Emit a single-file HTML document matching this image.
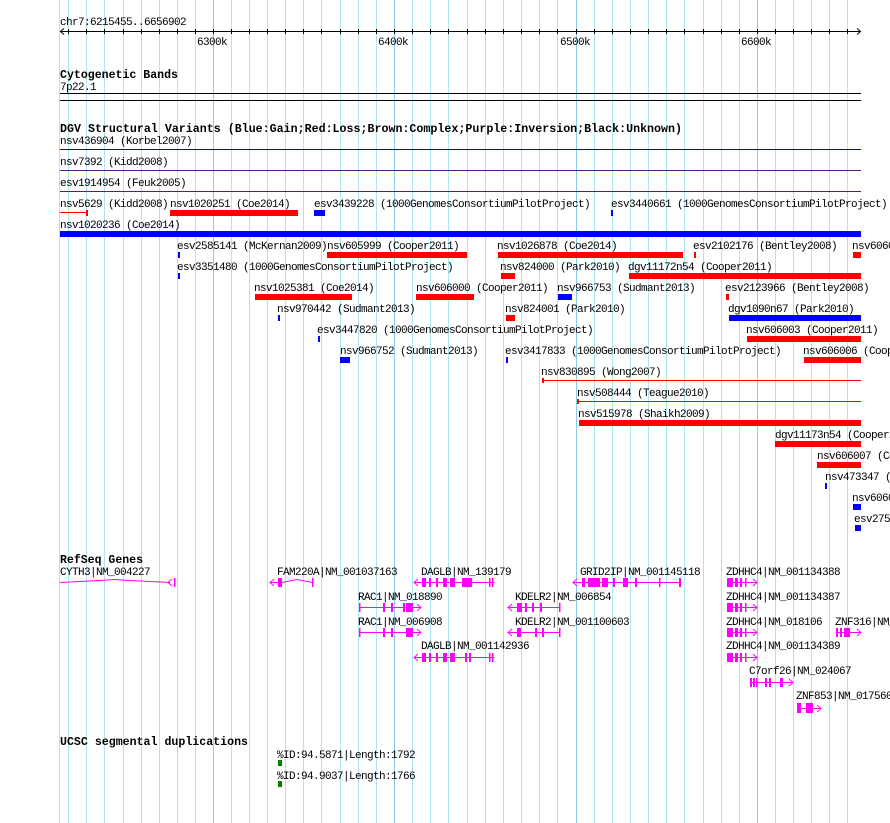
<!DOCTYPE html>
<html><head><meta charset="utf-8"><style>
html,body{margin:0;padding:0;background:#fff;width:890px;height:823px;overflow:hidden}
svg{display:block}
text{font-family:"Liberation Mono",monospace;font-size:11px;letter-spacing:-0.6px;fill:#000}
.b{font-weight:bold;font-size:12px;letter-spacing:0}
</style></head><body>
<svg width="890" height="823" viewBox="0 0 890 823" xmlns="http://www.w3.org/2000/svg">
<g stroke="#aee6ee" stroke-width="1">
<line x1="59.5" y1="0" x2="59.5" y2="823"/>
<line x1="68.5" y1="0" x2="68.5" y2="823"/><line x1="86.5" y1="0" x2="86.5" y2="823"/><line x1="104.5" y1="0" x2="104.5" y2="823"/><line x1="123.5" y1="0" x2="123.5" y2="823"/><line x1="141.5" y1="0" x2="141.5" y2="823"/><line x1="159.5" y1="0" x2="159.5" y2="823"/><line x1="177.5" y1="0" x2="177.5" y2="823"/><line x1="195.5" y1="0" x2="195.5" y2="823"/>
<line x1="231.5" y1="0" x2="231.5" y2="823"/><line x1="249.5" y1="0" x2="249.5" y2="823"/><line x1="267.5" y1="0" x2="267.5" y2="823"/><line x1="285.5" y1="0" x2="285.5" y2="823"/><line x1="303.5" y1="0" x2="303.5" y2="823"/><line x1="321.5" y1="0" x2="321.5" y2="823"/><line x1="340.5" y1="0" x2="340.5" y2="823"/><line x1="358.5" y1="0" x2="358.5" y2="823"/><line x1="376.5" y1="0" x2="376.5" y2="823"/>
<line x1="412.5" y1="0" x2="412.5" y2="823"/><line x1="430.5" y1="0" x2="430.5" y2="823"/><line x1="448.5" y1="0" x2="448.5" y2="823"/><line x1="467.5" y1="0" x2="467.5" y2="823"/><line x1="485.5" y1="0" x2="485.5" y2="823"/><line x1="503.5" y1="0" x2="503.5" y2="823"/><line x1="521.5" y1="0" x2="521.5" y2="823"/><line x1="539.5" y1="0" x2="539.5" y2="823"/><line x1="557.5" y1="0" x2="557.5" y2="823"/>
<line x1="594.5" y1="0" x2="594.5" y2="823"/><line x1="612.5" y1="0" x2="612.5" y2="823"/><line x1="630.5" y1="0" x2="630.5" y2="823"/><line x1="648.5" y1="0" x2="648.5" y2="823"/><line x1="666.5" y1="0" x2="666.5" y2="823"/><line x1="684.5" y1="0" x2="684.5" y2="823"/><line x1="703.5" y1="0" x2="703.5" y2="823"/><line x1="721.5" y1="0" x2="721.5" y2="823"/><line x1="739.5" y1="0" x2="739.5" y2="823"/>
<line x1="775.5" y1="0" x2="775.5" y2="823"/><line x1="793.5" y1="0" x2="793.5" y2="823"/><line x1="811.5" y1="0" x2="811.5" y2="823"/><line x1="829.5" y1="0" x2="829.5" y2="823"/><line x1="847.5" y1="0" x2="847.5" y2="823"/>
</g>
<g stroke="#8ccbe6" stroke-width="1">
<line x1="213.5" y1="0" x2="213.5" y2="823"/><line x1="394.5" y1="0" x2="394.5" y2="823"/><line x1="576.5" y1="0" x2="576.5" y2="823"/><line x1="757.5" y1="0" x2="757.5" y2="823"/>
</g>
<text x="60" y="25">chr7:6215455..6656902</text>
<g stroke="#000" stroke-width="1">
<line x1="60" y1="31.5" x2="861" y2="31.5"/>
<polyline points="64,28.5 60.5,31.5 64,34.5" fill="none"/>
<polyline points="857,28.5 860.5,31.5 857,34.5" fill="none"/>
</g>
<g stroke="#000" stroke-width="1">
<line x1="68.5" y1="29" x2="68.5" y2="34"/><line x1="86.5" y1="29" x2="86.5" y2="34"/><line x1="104.5" y1="29" x2="104.5" y2="34"/><line x1="123.5" y1="29" x2="123.5" y2="34"/><line x1="141.5" y1="29" x2="141.5" y2="34"/><line x1="159.5" y1="29" x2="159.5" y2="34"/><line x1="177.5" y1="29" x2="177.5" y2="34"/><line x1="195.5" y1="29" x2="195.5" y2="34"/><line x1="213.5" y1="29" x2="213.5" y2="34"/>
<line x1="231.5" y1="29" x2="231.5" y2="34"/><line x1="249.5" y1="29" x2="249.5" y2="34"/><line x1="267.5" y1="29" x2="267.5" y2="34"/><line x1="285.5" y1="29" x2="285.5" y2="34"/><line x1="303.5" y1="29" x2="303.5" y2="34"/><line x1="321.5" y1="29" x2="321.5" y2="34"/><line x1="340.5" y1="29" x2="340.5" y2="34"/><line x1="358.5" y1="29" x2="358.5" y2="34"/><line x1="376.5" y1="29" x2="376.5" y2="34"/><line x1="394.5" y1="29" x2="394.5" y2="34"/>
<line x1="412.5" y1="29" x2="412.5" y2="34"/><line x1="430.5" y1="29" x2="430.5" y2="34"/><line x1="448.5" y1="29" x2="448.5" y2="34"/><line x1="467.5" y1="29" x2="467.5" y2="34"/><line x1="485.5" y1="29" x2="485.5" y2="34"/><line x1="503.5" y1="29" x2="503.5" y2="34"/><line x1="521.5" y1="29" x2="521.5" y2="34"/><line x1="539.5" y1="29" x2="539.5" y2="34"/><line x1="557.5" y1="29" x2="557.5" y2="34"/><line x1="576.5" y1="29" x2="576.5" y2="34"/>
<line x1="594.5" y1="29" x2="594.5" y2="34"/><line x1="612.5" y1="29" x2="612.5" y2="34"/><line x1="630.5" y1="29" x2="630.5" y2="34"/><line x1="648.5" y1="29" x2="648.5" y2="34"/><line x1="666.5" y1="29" x2="666.5" y2="34"/><line x1="684.5" y1="29" x2="684.5" y2="34"/><line x1="703.5" y1="29" x2="703.5" y2="34"/><line x1="721.5" y1="29" x2="721.5" y2="34"/><line x1="739.5" y1="29" x2="739.5" y2="34"/><line x1="757.5" y1="29" x2="757.5" y2="34"/>
<line x1="775.5" y1="29" x2="775.5" y2="34"/><line x1="793.5" y1="29" x2="793.5" y2="34"/><line x1="811.5" y1="29" x2="811.5" y2="34"/><line x1="829.5" y1="29" x2="829.5" y2="34"/><line x1="847.5" y1="29" x2="847.5" y2="34"/>
</g>
<text x="197" y="45">6300k</text><text x="378" y="45">6400k</text><text x="560" y="45">6500k</text><text x="741" y="45">6600k</text>
<text class="b" x="60" y="78" textLength="118" lengthAdjust="spacingAndGlyphs">Cytogenetic Bands</text>
<text x="60" y="90">7p22.1</text>
<rect x="60" y="93" width="801" height="1" fill="#000"/>
<rect x="60" y="100" width="801" height="1" fill="#000"/>
<text class="b" x="60" y="132" textLength="622" lengthAdjust="spacingAndGlyphs">DGV Structural Variants (Blue:Gain;Red:Loss;Brown:Complex;Purple:Inversion;Black:Unknown)</text>
<text x="60" y="144">nsv436904 (Korbel2007)</text>
<rect x="60" y="149" width="801" height="1" fill="#0000cc"/>
<text x="60" y="165">nsv7392 (Kidd2008)</text>
<rect x="60" y="170" width="801" height="1" fill="#551a8b"/>
<text x="60" y="186">esv1914954 (Feuk2005)</text>
<rect x="60" y="191" width="801" height="1" fill="#551a8b"/>

<text x="60" y="207">nsv5629 (Kidd2008)</text>
<text x="170" y="207">nsv1020251 (Coe2014)</text>
<text x="314" y="207">esv3439228 (1000GenomesConsortiumPilotProject)</text>
<text x="611" y="207">esv3440661 (1000GenomesConsortiumPilotProject)</text>
<rect x="60" y="212" width="27" height="1" fill="#f00"/><rect x="86" y="210" width="2" height="6" fill="#f00"/>
<rect x="170" y="210" width="128" height="6" fill="#f00"/>
<rect x="314" y="210" width="11" height="6" fill="#00f"/>
<rect x="611" y="210" width="2" height="6" fill="#00f"/>

<text x="60" y="228">nsv1020236 (Coe2014)</text>
<rect x="60" y="231" width="801" height="6" fill="#00f"/>

<text x="177" y="249">esv2585141 (McKernan2009)</text>
<text x="327" y="249">nsv605999 (Cooper2011)</text>
<text x="497" y="249">nsv1026878 (Coe2014)</text>
<text x="693" y="249">esv2102176 (Bentley2008)</text>
<text x="852" y="249">nsv606005 (Cooper2011)</text>
<rect x="178" y="252" width="2" height="6" fill="#00f"/>
<rect x="327" y="252" width="140" height="6" fill="#f00"/>
<rect x="498" y="252" width="185" height="6" fill="#f00"/>
<rect x="694" y="252" width="2" height="6" fill="#f00"/>
<rect x="853" y="252" width="8" height="6" fill="#f00"/>

<text x="177" y="270">esv3351480 (1000GenomesConsortiumPilotProject)</text>
<text x="500" y="270">nsv824000 (Park2010)</text>
<text x="628" y="270">dgv11172n54 (Cooper2011)</text>
<rect x="178" y="273" width="2" height="6" fill="#00f"/>
<rect x="501" y="273" width="14" height="6" fill="#f00"/>
<rect x="629" y="273" width="232" height="6" fill="#f00"/>

<text x="254" y="291">nsv1025381 (Coe2014)</text>
<text x="416" y="291">nsv606000 (Cooper2011)</text>
<text x="557" y="291">nsv966753 (Sudmant2013)</text>
<text x="725" y="291">esv2123966 (Bentley2008)</text>
<rect x="255" y="294" width="97" height="6" fill="#f00"/>
<rect x="416" y="294" width="58" height="6" fill="#f00"/>
<rect x="558" y="294" width="14" height="6" fill="#00f"/>
<rect x="726" y="294" width="3" height="6" fill="#f00"/>

<text x="277" y="312">nsv970442 (Sudmant2013)</text>
<text x="505" y="312">nsv824001 (Park2010)</text>
<text x="728" y="312">dgv1090n67 (Park2010)</text>
<rect x="278" y="315" width="2" height="6" fill="#00f"/>
<rect x="506" y="315" width="9" height="6" fill="#f00"/>
<rect x="729" y="315" width="132" height="6" fill="#00f"/>

<text x="317" y="333">esv3447820 (1000GenomesConsortiumPilotProject)</text>
<text x="746" y="333">nsv606003 (Cooper2011)</text>
<rect x="318" y="336" width="2" height="6" fill="#00f"/>
<rect x="747" y="336" width="114" height="6" fill="#f00"/>

<text x="340" y="354">nsv966752 (Sudmant2013)</text>
<text x="505" y="354">esv3417833 (1000GenomesConsortiumPilotProject)</text>
<text x="803" y="354">nsv606006 (Cooper2011)</text>
<rect x="340" y="357" width="10" height="6" fill="#00f"/>
<rect x="506" y="357" width="2" height="6" fill="#00f"/>
<rect x="804" y="357" width="57" height="6" fill="#f00"/>

<text x="541" y="375">nsv830895 (Wong2007)</text>
<rect x="542" y="380" width="319" height="1" fill="#f00"/><rect x="542" y="378" width="2" height="5" fill="#f00"/>
<text x="577" y="396">nsv508444 (Teague2010)</text>
<rect x="577" y="401" width="284" height="1" fill="#f00"/><rect x="577" y="399" width="2" height="5" fill="#f00"/>
<text x="578" y="417">nsv515978 (Shaikh2009)</text>
<rect x="579" y="420" width="282" height="6" fill="#f00"/>
<text x="775" y="438">dgv11173n54 (Cooper2011)</text>
<rect x="775" y="441" width="86" height="6" fill="#f00"/>
<text x="817" y="459">nsv606007 (Cooper2011)</text>
<rect x="817" y="462" width="44" height="6" fill="#f00"/>
<text x="825" y="480">nsv473347 (Park2010)</text>
<rect x="825" y="483" width="2" height="6" fill="#00f"/>
<text x="852" y="501">nsv606004</text>
<rect x="853" y="504" width="8" height="6" fill="#00f"/>
<text x="854" y="522">esv2758</text>
<rect x="855" y="525" width="6" height="6" fill="#00f"/>

<text class="b" x="60" y="563" textLength="83" lengthAdjust="spacingAndGlyphs">RefSeq Genes</text>
<g fill="#f0f" stroke="#f0f" stroke-width="1">
<text x="60" y="575" style="fill:#000;stroke:none">CYTH3|NM_004227</text>
<polyline points="60,582.5 80,581.5 100,580.5 115,579.5 130,580.5 150,581.5 170,582.5" fill="none"/>
<polyline points="172,579 168,582.5 172,586" fill="none"/>
<rect x="174" y="578" width="1.5" height="9" stroke="none"/>

<text x="277" y="575" style="fill:#000;stroke:none">FAM220A|NM_001037163</text>
<line x1="270" y1="582.5" x2="278" y2="582.5"/><polyline points="274,579 270,582.5 274,586" fill="none"/>
<rect x="278" y="578" width="4" height="9" stroke="none"/>
<polyline points="282,582.5 297,579.5 312,582.5" fill="none"/>
<rect x="312" y="578" width="1.5" height="9" stroke="none"/>

<text x="421" y="575" style="fill:#000;stroke:none">DAGLB|NM_139179</text>
<line x1="414" y1="582.5" x2="494" y2="582.5"/><polyline points="418,579 414,582.5 418,586" fill="none"/>
<rect x="422" y="578" width="4" height="9" stroke="none"/><rect x="429" y="578" width="2" height="9" stroke="none"/><rect x="436" y="578" width="2" height="9" stroke="none"/><rect x="443" y="578" width="4" height="9" stroke="none"/><rect x="450" y="578" width="5" height="9" stroke="none"/><rect x="462" y="578" width="10" height="9" stroke="none"/><rect x="489" y="578" width="1.5" height="9" stroke="none"/><rect x="492" y="578" width="1.5" height="9" stroke="none"/>

<text x="580" y="575" style="fill:#000;stroke:none">GRID2IP|NM_001145118</text>
<line x1="573" y1="582.5" x2="681" y2="582.5"/><polyline points="577,579 573,582.5 577,586" fill="none"/>
<rect x="582" y="578" width="3" height="9" stroke="none"/><rect x="588" y="578" width="12" height="9" stroke="none"/><rect x="602" y="578" width="6" height="9" stroke="none"/><rect x="613" y="578" width="2" height="9" stroke="none"/><rect x="623" y="578" width="5" height="9" stroke="none"/><rect x="635" y="578" width="2" height="9" stroke="none"/><rect x="659" y="578" width="1.5" height="9" stroke="none"/><rect x="679" y="578" width="2" height="9" stroke="none"/>

<text x="726" y="575" style="fill:#000;stroke:none">ZDHHC4|NM_001134388</text>
<line x1="727" y1="582.5" x2="757" y2="582.5"/><polyline points="753,579 757,582.5 753,586" fill="none"/>
<rect x="727" y="578" width="6" height="9" stroke="none"/><rect x="735" y="578" width="3" height="9" stroke="none"/><rect x="740" y="578" width="2" height="9" stroke="none"/><rect x="745" y="578" width="1.5" height="9" stroke="none"/>

<text x="358" y="600" style="fill:#000;stroke:none">RAC1|NM_018890</text>
<line x1="359" y1="607.5" x2="421" y2="607.5"/><polyline points="417,604 421,607.5 417,611" fill="none"/>
<rect x="359" y="603" width="1.5" height="9" stroke="none"/><rect x="383" y="603" width="2" height="9" stroke="none"/><rect x="391" y="603" width="2" height="9" stroke="none"/><rect x="403" y="603" width="2" height="9" stroke="none"/><rect x="406" y="603" width="7" height="9" stroke="none"/>
<text x="515" y="600" style="fill:#000;stroke:none">KDELR2|NM_006854</text>
<line x1="508" y1="607.5" x2="560" y2="607.5"/><polyline points="512,604 508,607.5 512,611" fill="none"/>
<rect x="517" y="603" width="5" height="9" stroke="none"/><rect x="525" y="603" width="2" height="9" stroke="none"/><rect x="532" y="603" width="2" height="9" stroke="none"/><rect x="540" y="603" width="2" height="9" stroke="none"/><rect x="559" y="603" width="1.5" height="9" stroke="none"/>
<text x="726" y="600" style="fill:#000;stroke:none">ZDHHC4|NM_001134387</text>
<line x1="727" y1="607.5" x2="757" y2="607.5"/><polyline points="753,604 757,607.5 753,611" fill="none"/>
<rect x="727" y="603" width="6" height="9" stroke="none"/><rect x="735" y="603" width="3" height="9" stroke="none"/><rect x="740" y="603" width="2" height="9" stroke="none"/><rect x="745" y="603" width="1.5" height="9" stroke="none"/>

<text x="358" y="625" style="fill:#000;stroke:none">RAC1|NM_006908</text>
<line x1="359" y1="632.5" x2="421" y2="632.5"/><polyline points="417,629 421,632.5 417,636" fill="none"/>
<rect x="359" y="628" width="1.5" height="9" stroke="none"/><rect x="383" y="628" width="2" height="9" stroke="none"/><rect x="391" y="628" width="2" height="9" stroke="none"/><rect x="406" y="628" width="7" height="9" stroke="none"/>
<text x="515" y="625" style="fill:#000;stroke:none">KDELR2|NM_001100603</text>
<line x1="508" y1="632.5" x2="560" y2="632.5"/><polyline points="512,629 508,632.5 512,636" fill="none"/>
<rect x="517" y="628" width="4" height="9" stroke="none"/><rect x="535" y="628" width="2" height="9" stroke="none"/><rect x="542" y="628" width="2" height="9" stroke="none"/><rect x="559" y="628" width="1.5" height="9" stroke="none"/>
<text x="726" y="625" style="fill:#000;stroke:none">ZDHHC4|NM_018106</text>
<line x1="727" y1="632.5" x2="757" y2="632.5"/><polyline points="753,629 757,632.5 753,636" fill="none"/>
<rect x="727" y="628" width="6" height="9" stroke="none"/><rect x="735" y="628" width="3" height="9" stroke="none"/><rect x="740" y="628" width="2" height="9" stroke="none"/><rect x="745" y="628" width="1.5" height="9" stroke="none"/>
<text x="835" y="625" style="fill:#000;stroke:none">ZNF316|NM_006909</text>
<line x1="836" y1="632.5" x2="861" y2="632.5"/><polyline points="857,629 861,632.5 857,636" fill="none"/>
<rect x="836" y="628" width="2" height="9" stroke="none"/><rect x="840" y="628" width="2" height="9" stroke="none"/><rect x="844" y="628" width="6" height="9" stroke="none"/>

<text x="421" y="649" style="fill:#000;stroke:none">DAGLB|NM_001142936</text>
<line x1="414" y1="657.5" x2="494" y2="657.5"/><polyline points="418,654 414,657.5 418,661" fill="none"/>
<rect x="422" y="653" width="4" height="9" stroke="none"/><rect x="429" y="653" width="2" height="9" stroke="none"/><rect x="436" y="653" width="2" height="9" stroke="none"/><rect x="443" y="653" width="4" height="9" stroke="none"/><rect x="450" y="653" width="5" height="9" stroke="none"/><rect x="465" y="653" width="2" height="9" stroke="none"/><rect x="469" y="653" width="2" height="9" stroke="none"/><rect x="489" y="653" width="1.5" height="9" stroke="none"/><rect x="492" y="653" width="1.5" height="9" stroke="none"/>
<text x="726" y="649" style="fill:#000;stroke:none">ZDHHC4|NM_001134389</text>
<line x1="727" y1="657.5" x2="757" y2="657.5"/><polyline points="753,654 757,657.5 753,661" fill="none"/>
<rect x="727" y="653" width="6" height="9" stroke="none"/><rect x="735" y="653" width="3" height="9" stroke="none"/><rect x="740" y="653" width="2" height="9" stroke="none"/><rect x="745" y="653" width="1.5" height="9" stroke="none"/>

<text x="749" y="674" style="fill:#000;stroke:none">C7orf26|NM_024067</text>
<line x1="750" y1="682.5" x2="793" y2="682.5"/><polyline points="789,679 793,682.5 789,686" fill="none"/>
<rect x="750" y="678" width="2" height="9" stroke="none"/><rect x="753" y="678" width="2" height="9" stroke="none"/><rect x="756" y="678" width="1.5" height="9" stroke="none"/><rect x="765" y="678" width="2" height="9" stroke="none"/><rect x="769" y="678" width="2" height="9" stroke="none"/><rect x="780" y="678" width="3" height="9" stroke="none"/>

<text x="796" y="699" style="fill:#000;stroke:none">ZNF853|NM_017560</text>
<line x1="797" y1="708.5" x2="821" y2="708.5"/><polyline points="817,705 821,708.5 817,712" fill="none"/>
<rect x="797" y="703" width="4" height="10" stroke="none"/><rect x="806" y="703" width="7" height="10" stroke="none"/>
</g>

<text class="b" x="60" y="745" textLength="188" lengthAdjust="spacingAndGlyphs">UCSC segmental duplications</text>
<text x="277" y="758">%ID:94.5871|Length:1792</text>
<rect x="278" y="760" width="4" height="6" fill="#008000"/>
<text x="277" y="779">%ID:94.9037|Length:1766</text>
<rect x="278" y="781" width="4" height="6" fill="#008000"/>
</svg>
</body></html>
